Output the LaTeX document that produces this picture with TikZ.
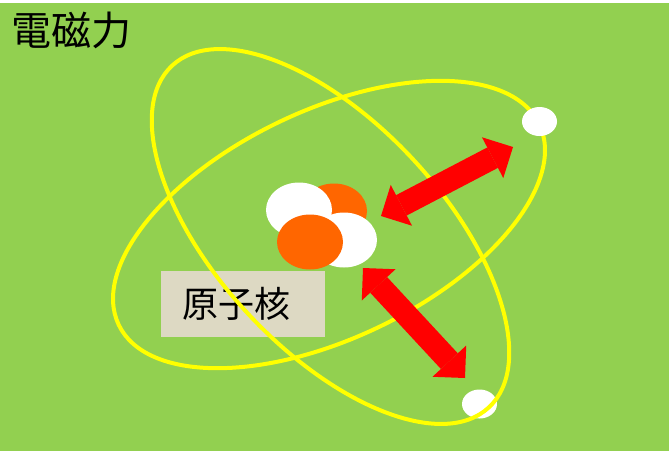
\documentclass[tikz,border=0pt]{standalone}
\usepackage{fontspec}
\usepackage{tikz}
\usetikzlibrary{shapes.geometric,arrows.meta}
\newfontfamily\jpfont{Noto Sans CJK JP}
\definecolor{bggreen}{HTML}{92D050}
\definecolor{orbityellow}{HTML}{FFFF00}
\definecolor{protonorange}{HTML}{FF6600}
\definecolor{forcered}{HTML}{FF0000}
\definecolor{boxbeige}{HTML}{DDD9C3}
\tikzset{
    orbit/.style = {draw=orbityellow, line width=4pt},
    nucleon/.style = {ellipse, inner sep=0pt, minimum width=66pt, minimum height=55pt},
    proton/.style = {nucleon, fill=protonorange},
    neutron/.style = {nucleon, fill=white},
    electron/.style = {ellipse, inner sep=0pt, minimum width=35pt, minimum height=29pt, fill=white},
    namebox/.style = {rectangle, fill=boxbeige, minimum width=164pt, minimum height=66pt, inner xsep=21pt, text width=122pt, align=left, font=\jpfont\fontsize{36}{40}\selectfont},
    force/.style = {draw=forcered, line width=23pt, <->, >={Triangle[length=23pt,width=46pt,line width=0pt]}}
}

\begin{document}
\begin{tikzpicture}[x=1pt, y=1pt]
\useasboundingbox (0,0) rectangle (669,-451);
\fill [white] (0,0) rectangle (669,-451);
\fill [bggreen] (0,-3) rectangle (669,-451);

\node (title) [anchor=west, inner sep=0pt, font=\jpfont\fontsize{40}{40}\selectfont] at (11,-30) {電磁力};
\node (nucleus) [namebox] at (243,-304) {原子核};

\node (e2) [electron] at (479.5,-404) {};
\draw [orbit, rotate around={-47.2:(330.5,-236.5)}] (330.5,-236.5) ellipse [x radius=233, y radius=113];
\draw [orbit, rotate around={25.5:(329,-224.5)}] (329,-224.5) ellipse [x radius=233, y radius=114];
\node (e1) [electron] at (539.5,-121.5) {};

\node (p1) [proton] at (334,-211) {};
\node (n1) [neutron] at (299,-210) {};
\node (n2) [neutron] at (344,-240) {};
\node (p2) [proton] at (310,-242) {};

\coordinate (f1a) at (381,-216);
\coordinate (f1b) at (513,-147);
\coordinate (f2a) at (363,-268);
\coordinate (f2b) at (465,-378);
\draw [force] (f1a) -- (f1b);
\draw [force] (f2a) -- (f2b);
\end{tikzpicture}
\end{document}
